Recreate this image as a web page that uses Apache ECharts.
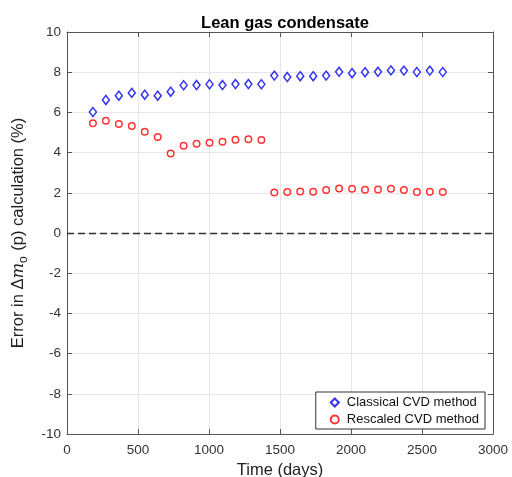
<!DOCTYPE html>
<html><head><meta charset="utf-8">
<script src="https://cdn.jsdelivr.net/npm/echarts@6/dist/echarts.min.js"></script>
<style>html,body{margin:0;padding:0;background:#fff}#c{width:512px;height:477px}</style>
</head><body><div id="c"></div>
<script>
const timeDays = [182.5,273.75,365,456.25,547.5,638.75,730,821.25,912.5,1003.75,1095,1186.25,1277.5,1368.75,
  1460,1551.25,1642.5,1733.75,1825,1916.25,2007.5,2098.75,2190,2281.25,2372.5,2463.75,2555,2646.25];
const classicalCVD = [6.02,6.62,6.83,6.97,6.88,6.83,7.03,7.35,7.36,7.40,7.36,7.41,7.41,7.40,
  7.83,7.76,7.80,7.80,7.83,8.02,7.95,8.00,8.02,8.09,8.08,8.01,8.08,8.01];
const rescaledCVD = [5.46,5.59,5.42,5.32,5.04,4.78,3.95,4.34,4.44,4.49,4.54,4.64,4.66,4.63,
  2.02,2.04,2.07,2.05,2.14,2.22,2.20,2.15,2.17,2.20,2.14,2.04,2.05,2.04];
const xTicks = [0,500,1000,1500,2000,2500,3000];
const yTicks = [-10,-8,-6,-4,-2,0,2,4,6,8,10];

const font = 'Liberation Sans, Arial, Helvetica, sans-serif';
const chart = echarts.init(document.getElementById('c'));
const pair = (xs, ys) => xs.map((x, i) => [x, ys[i]]);
const axisCommon = {
  axisLine: {show: true, onZero: false, lineStyle: {color: '#555', width: 1}},
  axisTick: {show: true, inside: true, length: 5, lineStyle: {color: '#555'}},
};
chart.setOption({
  backgroundColor: '#fff',
  animation: false,
  title: {text: 'Lean gas condensate', left: 280, top: 10, textAlign: 'center',
    textStyle: {fontFamily: font, fontSize: 16.5, fontWeight: 'bold', color: '#000'}},
  grid: {left: 67, right: 19, top: 32, bottom: 43, containLabel: false, outerBoundsMode: 'none'},
  legend: {
    right: 27, bottom: 48, orient: 'vertical', itemGap: 4,
    backgroundColor: '#fff', borderColor: '#333', borderWidth: 1, padding: [4, 6, 3, 14],
    itemWidth: 8, itemHeight: 8,
    textStyle: {fontFamily: font, fontSize: 13, color: '#111', padding: [0, 0, 0, 3]},
    data: [{name: 'Classical CVD method', icon: 'diamond'}, {name: 'Rescaled CVD method', icon: 'circle'}]
  },
  xAxis: [
    Object.assign({type: 'value', min: 0, max: 3000, interval: 500, position: 'bottom',
      name: 'Time (days)', nameLocation: 'middle', nameGap: 28,
      nameTextStyle: {fontFamily: font, fontSize: 16.5, color: '#222'},
      axisLabel: {fontFamily: font, fontSize: 13.5, color: '#333', margin: 9,
        formatter: v => xTicks.includes(v) ? String(v) : ''},
      splitLine: {show: true, lineStyle: {color: '#e6e6e6'}}}, axisCommon),
    Object.assign({type: 'value', min: 0, max: 3000, interval: 500, position: 'top',
      axisLabel: {show: false}, splitLine: {show: false}}, axisCommon)
  ],
  yAxis: [
    Object.assign({type: 'value', min: -10, max: 10, interval: 2, position: 'left',
      name: '{a|Error in Δ}{m|m}{s|o}{a| (p) calculation (%)}', nameLocation: 'middle', nameGap: 37,
      nameTextStyle: {fontFamily: font, fontSize: 16.5, color: '#222',
        rich: {a: {fontFamily: font, fontSize: 16.5, color: '#222'},
               m: {fontFamily: 'DejaVu Serif, serif', fontStyle: 'italic', fontSize: 16.5, color: '#222'},
               s: {fontFamily: font, fontSize: 12, color: '#222', padding: [11, 1, 0, 0]}}},
      axisLabel: {fontFamily: font, fontSize: 13.5, color: '#333', margin: 6,
        formatter: v => yTicks.includes(v) ? String(v) : ''},
      splitLine: {show: true, lineStyle: {color: '#e6e6e6'}}}, axisCommon),
    Object.assign({type: 'value', min: -10, max: 10, interval: 2, position: 'right',
      axisLabel: {show: false}, splitLine: {show: false}}, axisCommon)
  ],
  series: [
    {name: 'Classical CVD method', type: 'scatter', symbol: 'diamond', symbolSize: [7, 9],
      itemStyle: {color: '#fff', borderColor: '#0000ee', borderWidth: 1.5},
      data: pair(timeDays, classicalCVD), z: 5},
    {name: 'Rescaled CVD method', type: 'scatter', symbol: 'circle', symbolSize: 6.5,
      itemStyle: {color: '#fff', borderColor: '#ff0000', borderWidth: 1.5},
      data: pair(timeDays, rescaledCVD), z: 5,
      markLine: {silent: true, symbol: 'none', label: {show: false},
        lineStyle: {color: '#333', type: [7, 4], width: 1.3},
        data: [{yAxis: 0}]}}
  ]
});
</script></body></html>
